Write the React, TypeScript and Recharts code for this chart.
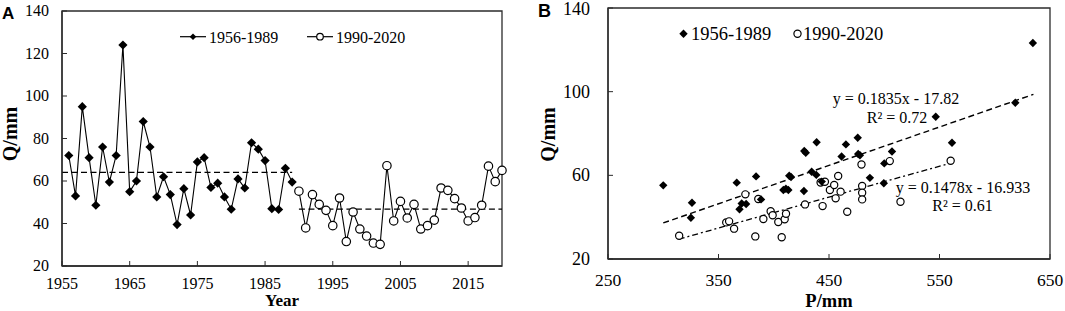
import React from "react";
import {
  ComposedChart,
  Line,
  Scatter,
  XAxis,
  YAxis,
  ReferenceLine,
  ReferenceArea,
} from "recharts";

// panel A: annual runoff depth
const yearsEarly = [
  1956, 1957, 1958, 1959, 1960, 1961, 1962, 1963, 1964, 1965, 1966, 1967,
  1968, 1969, 1970, 1971, 1972, 1973, 1974, 1975, 1976, 1977, 1978, 1979,
  1980, 1981, 1982, 1983, 1984, 1985, 1986, 1987, 1988, 1989,
];
const runoffEarly = [
  72, 53, 95, 71, 48.6, 76, 59.5, 72, 124, 55, 60, 88, 76, 52.5, 62, 53.6,
  39.5, 56.4, 44, 69, 71, 57, 59, 52.5, 46.7, 61, 56.7, 78, 75, 69.6, 47, 46.6,
  66, 59.5,
];
const yearsLate = [
  1990, 1991, 1992, 1993, 1994, 1995, 1996, 1997, 1998, 1999, 2000, 2001,
  2002, 2003, 2004, 2005, 2006, 2007, 2008, 2009, 2010, 2011, 2012, 2013,
  2014, 2015, 2016, 2017, 2018, 2019, 2020,
];
const runoffLate = [
  55.2, 37.9, 53.6, 49, 46.2, 39, 52, 31.5, 45.4, 37.4, 34.1, 30.8, 30.2, 67.2,
  41.2, 50.4, 42.6, 49, 37.4, 39, 41.6, 56.7, 55.6, 51.7, 47.3, 41.2, 42.8,
  48.6, 67, 59.7, 65,
];
const meanEarly = 64.1;
const meanLate = 46.8;
const yearTicks = [1955, 1965, 1975, 1985, 1995, 2005, 2015];
const qTicksA = [20, 40, 60, 80, 100, 120, 140];

// panel B: precipitation vs runoff
const precipEarly = [
  300, 326, 325, 366.5, 384, 415.6, 371, 369, 375, 388.5, 408.7, 413.2, 427.6,
  438.8, 434.3, 438.5, 427.3, 465.3, 476, 461.4, 476.4, 487, 499.6, 507, 500,
  634.5, 618.6, 546.6, 561.3, 443.4, 478, 429, 414, 411,
];
const scatterQEarly = [
  55.2, 46.9, 39.7, 56.5, 59.5, 59.2, 46.5, 43.8, 46.3, 48.5, 53, 53, 71.6,
  75.8, 61.7, 60.2, 52.5, 74.8, 78, 69, 70.2, 58.8, 56.2, 71.4, 65.7, 123.3,
  94.7, 88, 75.6, 57, 69.6, 70.8, 59.8, 53.6,
];
const precipLate = [
  314.4, 357, 359.6, 364.1, 374.3, 386, 383.3, 390.6, 397.2, 399, 404.1, 407.2,
  409.9, 411.1, 428.3, 444.2, 442.4, 446.3, 450.8, 454.7, 458.3, 460.5, 456,
  466.5, 479.4, 480, 480, 480, 505, 514.7, 560.1,
];
const scatterQLate = [
  31.1, 37.5, 38, 34.5, 50.9, 48.7, 30.8, 39.1, 42.8, 40.9, 37.7, 30.4, 39,
  41.6, 46.1, 45.3, 56.6, 56.9, 53, 55.4, 59.7, 52.2, 49, 42.6, 65.2, 54.9,
  51.7, 48.5, 66.8, 47.4, 67,
];
// fitted lines: slope, intercept, x range
const fitEarly = { slope: 0.1835, intercept: -17.82, from: 300, to: 635 };
const fitLate = { slope: 0.1478, intercept: -16.933, from: 314, to: 561 };
const pTicks = [250, 350, 450, 550, 650];
const qTicksB = [20, 60, 100, 140];

const seriesA = [
  ...yearsEarly.map((year, i) => ({ year, early: runoffEarly[i] })),
  ...yearsLate.map((year, i) => ({ year, late: runoffLate[i] })),
];
const pointsEarly = precipEarly.map((p, i) => ({ p, q: scatterQEarly[i] }));
const pointsLate = precipLate.map((p, i) => ({ p, q: scatterQLate[i] }));

const serif = "'Liberation Serif', 'Times New Roman', serif";
const axisColor = "#2b2b2b";

function Diamond({ cx, cy, s }: { cx: number; cy: number; s: number }) {
  return (
    <path d={`M${cx},${cy - s}L${cx + s},${cy}L${cx},${cy + s}L${cx - s},${cy}Z`} fill="#000" />
  );
}

function Ring({ cx, cy, r }: { cx: number; cy: number; r: number }) {
  return <circle cx={cx} cy={cy} r={r} fill="#fff" stroke="#000" strokeWidth={1.2} />;
}

const diamondDot = (s: number) => (props: any) => {
  const { cx, cy, index, value } = props;
  if (cx == null || cy == null || value == null) return <g key={index} />;
  return <Diamond key={index} cx={cx} cy={cy} s={s} />;
};
const ringDot = (r: number) => (props: any) => {
  const { cx, cy, index, value } = props;
  if (cx == null || cy == null || value == null) return <g key={index} />;
  return <Ring key={index} cx={cx} cy={cy} r={r} />;
};

// tick labels in Times-like serif
const xTick = (size: number) => (props: any) => (
  <text x={props.x} y={props.y} dy="0.71em" textAnchor="middle" fontFamily={serif} fontSize={size} fill="#000">
    {props.payload.value}
  </text>
);
const yTick = (size: number) => (props: any) => (
  <text x={props.x} y={props.y} dy="0.34em" textAnchor="end" fontFamily={serif} fontSize={size} fill="#000">
    {props.payload.value}
  </text>
);

const fitPoints = (f: typeof fitEarly) => [
  { x: f.from, y: f.slope * f.from + f.intercept },
  { x: f.to, y: f.slope * f.to + f.intercept },
];

function PanelA() {
  return (
    <ComposedChart
      width={520}
      height={311}
      data={seriesA}
      margin={{ top: 11, right: 18, bottom: 0, left: 0 }}
    >
      <ReferenceArea x1={1955} x2={2020} y1={20} y2={140} fill="none" stroke={axisColor} strokeWidth={1.3} />
      <XAxis
        type="number"
        dataKey="year"
        domain={[1955, 2020]}
        ticks={yearTicks}
        height={45}
        tickSize={-5}
        tickMargin={17}
        axisLine={{ stroke: axisColor, strokeWidth: 1.3 }}
        tickLine={{ stroke: axisColor }}
        tick={xTick(16)}
      />
      <YAxis
        type="number"
        domain={[20, 140]}
        ticks={qTicksA}
        width={62}
        tickSize={-5}
        tickMargin={18}
        axisLine={{ stroke: axisColor, strokeWidth: 1.3 }}
        tickLine={{ stroke: axisColor }}
        tick={yTick(16)}
      />
      <ReferenceLine
        segment={[{ x: 1955, y: meanEarly }, { x: 1989, y: meanEarly }]}
        stroke="#000"
        strokeWidth={1.3}
        strokeDasharray="6 3.5"
      />
      <ReferenceLine
        segment={[{ x: 1990, y: meanLate }, { x: 2020, y: meanLate }]}
        stroke="#000"
        strokeWidth={1.3}
        strokeDasharray="6 3.5"
      />
      <Line
        dataKey="early"
        stroke="#000"
        strokeWidth={1.1}
        dot={diamondDot(4.6)}
        activeDot={false}
        connectNulls={false}
        isAnimationActive={false}
      />
      <Line
        dataKey="late"
        stroke="#000"
        strokeWidth={1.1}
        dot={ringDot(4.2)}
        activeDot={false}
        connectNulls={false}
        isAnimationActive={false}
      />
    </ComposedChart>
  );
}

function PanelB() {
  return (
    <ComposedChart width={525} height={311} margin={{ top: 8, right: 15, bottom: 0, left: 0 }}>
      <ReferenceArea x1={250} x2={650} y1={20} y2={140} fill="none" stroke={axisColor} strokeWidth={1.3} />
      <XAxis
        type="number"
        dataKey="p"
        domain={[250, 650]}
        ticks={pTicks}
        height={52}
        tickSize={-5}
        tickMargin={20}
        axisLine={{ stroke: axisColor, strokeWidth: 1.3 }}
        tickLine={{ stroke: axisColor }}
        tick={xTick(17.5)}
      />
      <YAxis
        type="number"
        dataKey="q"
        domain={[20, 140]}
        ticks={qTicksB}
        width={68}
        tickSize={-5}
        tickMargin={23}
        axisLine={{ stroke: axisColor, strokeWidth: 1.3 }}
        tickLine={{ stroke: axisColor }}
        tick={yTick(18)}
      />
      <ReferenceLine segment={fitPoints(fitEarly)} stroke="#000" strokeWidth={1.4} strokeDasharray="6 3.5" />
      <ReferenceLine segment={fitPoints(fitLate)} stroke="#000" strokeWidth={1.3} strokeDasharray="6 3 2 3" />
      <Scatter
        data={pointsLate}
        isAnimationActive={false}
        shape={(props: any) => <Ring cx={props.cx} cy={props.cy} r={3.6} />}
      />
      <Scatter
        data={pointsEarly}
        isAnimationActive={false}
        shape={(props: any) => <Diamond cx={props.cx} cy={props.cy} s={4.2} />}
      />
    </ComposedChart>
  );
}

export default function App() {
  return (
    <div
      style={{
        position: "absolute",
        left: 0,
        top: 0,
        width: 1065,
        height: 311,
        background: "#fff",
        fontFamily: serif,
      }}
    >
      <div style={{ position: "absolute", left: 0, top: 0 }}>
        <PanelA />
      </div>
      <div style={{ position: "absolute", left: 540, top: 0 }}>
        <PanelB />
      </div>
      <svg
        width={1065}
        height={311}
        style={{ position: "absolute", left: 0, top: 0, pointerEvents: "none" }}
        fontFamily={serif}
      >
        {/* panel letters */}
        <text x={2} y={18.5} fontFamily="'Liberation Sans', Arial, sans-serif" fontWeight="bold" fontSize={17}>A</text>
        <text x={538} y={17} fontFamily="'Liberation Sans', Arial, sans-serif" fontWeight="bold" fontSize={18}>B</text>

        {/* axis titles */}
        <text x={17} y={134} transform="rotate(-90 17 134)" textAnchor="middle" fontWeight="bold" fontSize={20}>Q/mm</text>
        <text x={282} y={306} textAnchor="middle" fontWeight="bold" fontSize={17}>Year</text>
        <text x={555} y={134.5} transform="rotate(-90 555 134.5)" textAnchor="middle" fontWeight="bold" fontSize={20}>Q/mm</text>
        <text x={829} y={307} textAnchor="middle" fontWeight="bold" fontSize={18.5}>P/mm</text>

        {/* legend A */}
        <line x1={180} y1={36.7} x2={206} y2={36.7} stroke="#000" strokeWidth={1.2} />
        <Diamond cx={193} cy={36.7} s={3.3} />
        <text x={209} y={42.5} fontSize={16}>1956-1989</text>
        <line x1={307} y1={36.7} x2={333} y2={36.7} stroke="#000" strokeWidth={1.2} />
        <Ring cx={320} cy={36.7} r={3.3} />
        <text x={336} y={42.5} fontSize={16}>1990-2020</text>

        {/* legend B */}
        <Diamond cx={683.5} cy={33.7} s={4.2} />
        <text x={691} y={40} fontSize={18.5}>1956-1989</text>
        <Ring cx={797.5} cy={33.7} r={3.6} />
        <text x={803} y={40} fontSize={18.5}>1990-2020</text>

        {/* regression annotations */}
        <text x={896} y={104} textAnchor="middle" fontSize={16}>y = 0.1835x - 17.82</text>
        <text x={897} y={123} textAnchor="middle" fontSize={16}>R² = 0.72</text>
        <text x={963} y={193} textAnchor="middle" fontSize={16}>y = 0.1478x - 16.933</text>
        <text x={962.5} y={210.5} textAnchor="middle" fontSize={16}>R² = 0.61</text>
      </svg>
    </div>
  );
}
